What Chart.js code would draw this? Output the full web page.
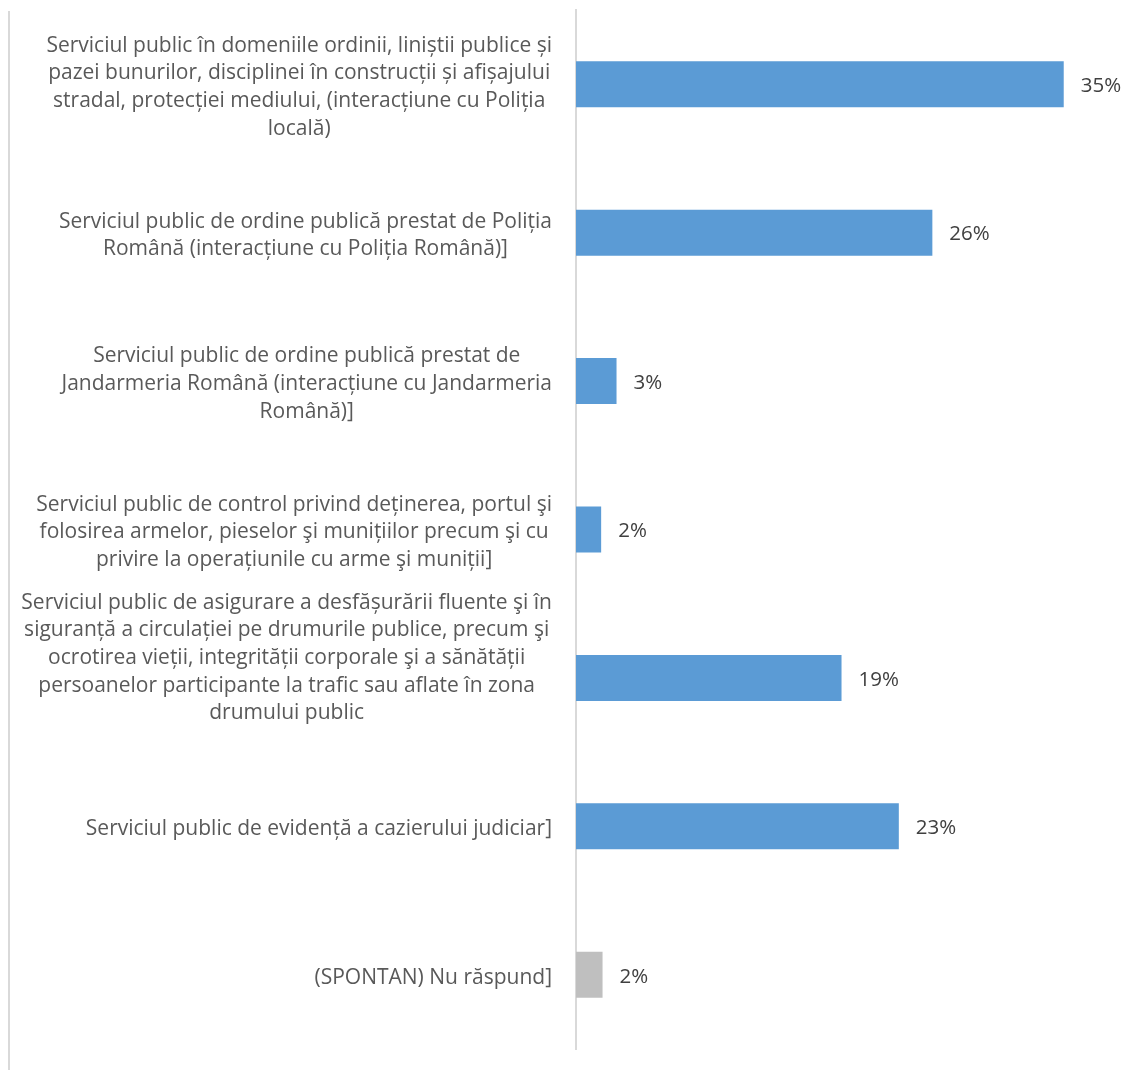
<!DOCTYPE html>
<html>
<head>
<meta charset="utf-8">
<script src="https://cdn.jsdelivr.net/npm/chart.js@4.4.0/dist/chart.umd.min.js"></script>
<style>
  body { margin: 0; background: #fff; }
  #wrap { position: relative; width: 1146px; height: 1070px; }
  #edge { position: absolute; left: 8px; top: 11px; height: 1059px; border-left: 2px solid #d9d9d9; }
</style>
</head>
<body>
<div id="wrap">
  <div id="edge"></div>
  <canvas id="myBarChart" width="1146" height="1070"></canvas>
</div>
<script>
// categories, wrapped as in the original
const categories = [
  ['Serviciul public în domeniile ordinii, liniștii publice și', 'pazei bunurilor, disciplinei în construcții și afișajului', 'stradal, protecției mediului, (interacțiune cu Poliția', 'locală)'],
  ['Serviciul public de ordine publică prestat de Poliția', 'Română (interacțiune cu Poliția Română)]'],
  ['Serviciul public de ordine publică prestat de', 'Jandarmeria Română (interacțiune cu Jandarmeria', 'Română)]'],
  ['Serviciul public de control privind deținerea, portul şi', 'folosirea armelor, pieselor şi munițiilor precum şi cu', 'privire la operațiunile cu arme şi muniții]'],
  ['Serviciul public de asigurare a desfășurării fluente şi în', 'siguranță a circulației pe drumurile publice, precum şi', 'ocrotirea vieții, integrității corporale şi a sănătății', 'persoanelor participante la trafic sau aflate în zona', 'drumului public'],
  ['Serviciul public de evidență a cazierului judiciar]'],
  ['(SPONTAN) Nu răspund]']
];
const values = [34.9, 25.5, 2.9, 1.8, 19.0, 23.1, 1.9];
const barColors = ['#5b9bd5', '#5b9bd5', '#5b9bd5', '#5b9bd5', '#5b9bd5', '#5b9bd5', '#bfbfbf'];

// category labels: block right aligned, lines centred inside the block
const catLabels = {
  id: 'catLabels',
  afterDraw(chart) {
    const ctx = chart.ctx;
    const y = chart.scales.y;
    ctx.save();
    ctx.font = '21px "Open Sans"';
    ctx.fillStyle = '#595959';
    ctx.textAlign = 'center';
    ctx.textBaseline = 'middle';
    const lh = 27.7;
    categories.forEach(function(lines, i) {
      const w = Math.max(...lines.map(l => ctx.measureText(l).width));
      const cx = 552 - w / 2;
      let cy = y.getPixelForValue(i) + 3;
      // very tall labels sit higher, like in Excel
      if (lines.length > 4) cy -= 23;
      const top = cy - (lines.length - 1) * lh / 2;
      lines.forEach(function(l, j) {
        ctx.fillText(l, cx, top + j * lh);
      });
    });
    ctx.restore();
  }
};

// value labels after the bars
const valueLabels = {
  id: 'valueLabels',
  afterDatasetsDraw(chart) {
    const ctx = chart.ctx;
    const meta = chart.getDatasetMeta(0);
    ctx.save();
    ctx.font = '20.5px "Open Sans"';
    ctx.fillStyle = '#404040';
    ctx.textAlign = 'left';
    ctx.textBaseline = 'middle';
    meta.data.forEach(function(bar, i) {
      ctx.fillText(Math.round(values[i]) + '%', bar.x + 17, bar.y + 2);
    });
    ctx.restore();
  }
};

const myBarChart = new Chart(document.getElementById('myBarChart').getContext('2d'), {
  type: 'bar',
  data: {
    labels: categories.map(c => c.join(' ')),
    datasets: [{
      data: values,
      backgroundColor: barColors,
      borderWidth: 0,
      barPercentage: 1,
      categoryPercentage: 0.31
    }]
  },
  options: {
    indexAxis: 'y',
    responsive: false,
    animation: false,
    layout: { padding: { top: 10, bottom: 21, left: 0, right: 11 } },
    plugins: { legend: { display: false }, tooltip: { enabled: false } },
    scales: {
      x: { display: false, min: 0, max: 40 },
      y: {
        grid: { display: false },
        border: { display: true, color: '#d9d9d9', width: 2 },
        ticks: { display: false },
        afterFit: function(scale) { scale.width = 576; }
      }
    }
  },
  plugins: [catLabels, valueLabels]
});
</script>
</body>
</html>
